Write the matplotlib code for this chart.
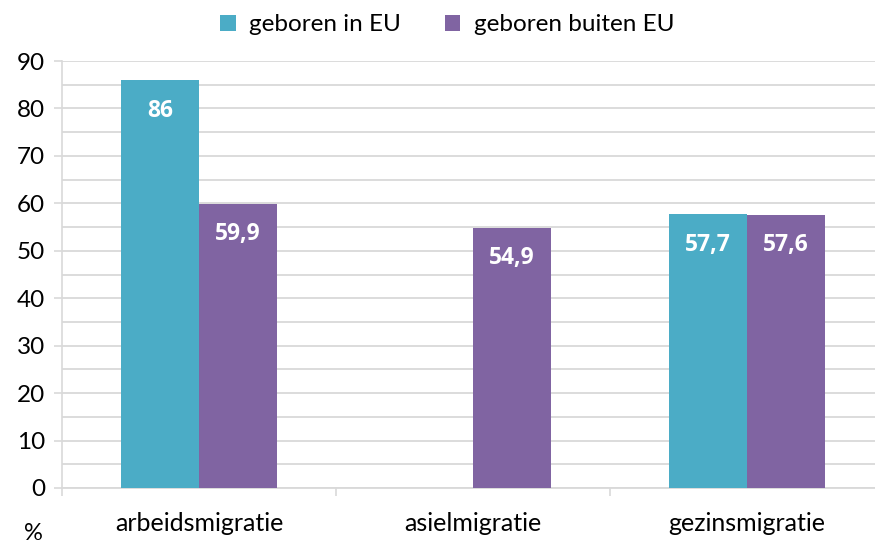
import numpy as np
import matplotlib.pyplot as plt

categories = ['arbeidsmigratie', 'asielmigratie', 'gezinsmigratie']
eu_values = [86, np.nan, 57.7]
non_eu_values = [59.9, 54.9, 57.6]
series_labels = ['geboren in EU', 'geboren buiten EU']
y_ticks = [0, 10, 20, 30, 40, 50, 60, 70, 80, 90]

teal = '#4BACC6'
purple = '#8064A2'
grid_col = '#D9D9D9'

plt.rcParams['font.family'] = ['Lato', 'DejaVu Sans']

fig = plt.figure(figsize=(8.75, 5.43), dpi=100)
ax = fig.add_axes([62 / 875, 1 - 488 / 543, (884 - 62) / 875, (488 - 61) / 543])

x = np.arange(len(categories))
w = 0.285
bars_eu = ax.bar(x - w / 2, eu_values, w, color=teal, label=series_labels[0], zorder=3)
bars_non = ax.bar(x + w / 2, non_eu_values, w, color=purple, label=series_labels[1], zorder=3)

# value labels inside the bars, near the top
for bars, vals in [(bars_eu, eu_values), (bars_non, non_eu_values)]:
    for b, v in zip(bars, vals):
        if np.isnan(v):
            continue
        txt = ('%g' % v).replace('.', ',')
        ax.annotate(txt, (b.get_x() + b.get_width() / 2, v),
                    xytext=(0, -22), textcoords='offset points',
                    ha='center', va='center', color='white',
                    fontsize=16.5, fontweight='bold', family='Open Sans', zorder=4)

ax.set_xlim(-0.5, 2.5)
ax.set_ylim(0, 90)
ax.set_yticks(y_ticks)
ax.set_yticks(np.arange(5, 90, 10), minor=True)
ax.tick_params(axis='y', which='major', length=6, width=1.2, color=grid_col,
               labelsize=17.5, pad=6)
ax.tick_params(axis='y', which='minor', length=0)
ax.grid(axis='y', which='both', color=grid_col, linewidth=1.3, zorder=0)

ax.set_xticks(x)
ax.set_xticklabels(categories)
ax.tick_params(axis='x', which='major', length=0, labelsize=18, pad=17)
ax.set_xticks([-0.5, 0.5, 1.5, 2.5], minor=True)
ax.tick_params(axis='x', which='minor', length=6, width=1.2, color=grid_col)

for s in ['top', 'right']:
    ax.spines[s].set_visible(False)
ax.spines['left'].set_color(grid_col)
ax.spines['left'].set_linewidth(1.2)
ax.spines['bottom'].set_color(grid_col)
ax.spines['bottom'].set_linewidth(1.3)

fig.text(33 / 875, 1 - 533 / 543, '%', fontsize=17, ha='center', va='center')

fig.legend(loc='center', bbox_to_anchor=(447 / 875, 1 - 25 / 543), ncol=2,
           frameon=False, fontsize=17.5, handlelength=0.65, handleheight=0.65,
           handletextpad=0.55, columnspacing=1.8)

fig.savefig('out.png', dpi=100)
